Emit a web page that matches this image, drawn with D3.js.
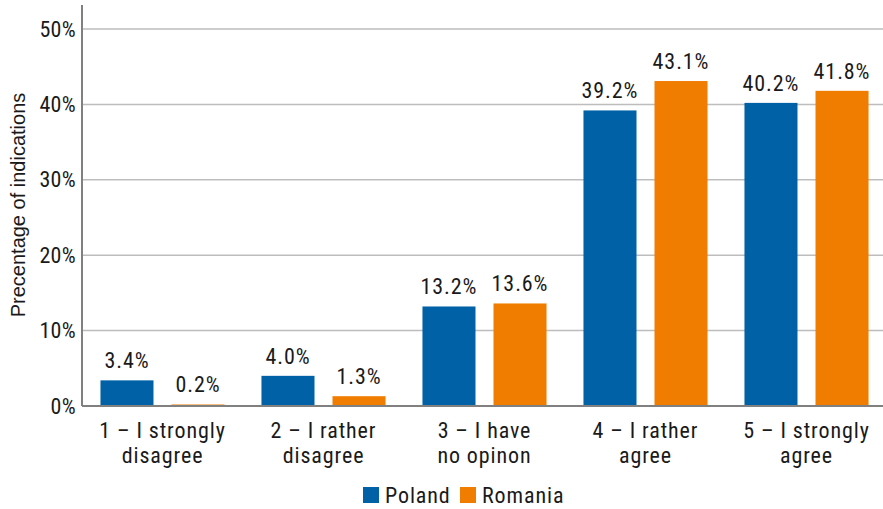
<!DOCTYPE html>
<html>
<head>
<meta charset="utf-8">
<script src="https://cdn.jsdelivr.net/npm/d3@7"></script>
<style>
  body { margin: 0; background: #fff; overflow: hidden; }
  svg text { font-family: "Roboto Condensed", Roboto, sans-serif; font-stretch: condensed; fill: #1a1a1a; letter-spacing: 0.9px; }
  svg text.ytitle { font-family: "Liberation Sans", Arial, sans-serif; font-stretch: normal; letter-spacing: 0; }
</style>
</head>
<body>
<svg id="chart"></svg>
<script>
// categories and series
const categories = ["1 – I strongly|disagree", "2 – I rather|disagree", "3 – I have|no opinon", "4 – I rather|agree", "5 – I strongly|agree"];
const seriesNames = ["Poland", "Romania"];
const poland = [3.4, 4.0, 13.2, 39.2, 40.2];
const romania = [0.2, 1.3, 13.6, 43.1, 41.8];
const yTicks = [0, 10, 20, 30, 40, 50];
const colors = ["#0061a6", "#f07d00"];

const W = 883, H = 509;
const margin = { top: 29, left: 82, bottom: 103 };
const width = 805,
      height = H - margin.top - margin.bottom;
const fs = 22;

const svg = d3.select("#chart").attr("width", W).attr("height", H);
const g = svg.append("g").attr("transform", `translate(${margin.left},${margin.top})`);

const x0 = d3.scaleBand().domain(categories).range([0, width]);
const x1 = d3.scaleBand().domain(seriesNames).range([0, x0.bandwidth()]).paddingInner(0.2535).paddingOuter(0.26);
const y = d3.scaleLinear().domain([0, 50]).range([height, 0]);

// gridlines
g.append("g").selectAll("line").data(yTicks.filter(d => d > 0)).join("line")
  .attr("x1", 0).attr("x2", width)
  .attr("y1", d => y(d)).attr("y2", d => y(d))
  .attr("stroke", "#bdbdbd").attr("stroke-width", 1.5);

// y axis
const yAxis = g.append("g").call(d3.axisLeft(y).tickValues(yTicks).tickFormat(d => d + "%").tickSize(0).tickPadding(6));
yAxis.select(".domain").remove();
yAxis.selectAll("text").attr("font-size", fs).style("font-family", null).style("letter-spacing", "0.3px");
g.append("line").attr("x1", 0).attr("x2", 0).attr("y1", -24).attr("y2", height)
  .attr("stroke", "#808080").attr("stroke-width", 2);

// bars
const data = categories.map((c, i) => ({ cat: c, vals: [poland[i], romania[i]] }));
const groups = g.append("g").selectAll("g").data(data).join("g")
  .attr("transform", d => `translate(${x0(d.cat)},0)`);

groups.selectAll("rect").data(d => d.vals.map((v, j) => ({ key: seriesNames[j], v, j }))).join("rect")
  .attr("x", d => x1(d.key)).attr("width", x1.bandwidth())
  .attr("y", d => y(d.v)).attr("height", d => height - y(d.v))
  .attr("fill", d => colors[d.j]);

groups.selectAll("text.val").data(d => d.vals.map((v, j) => ({ key: seriesNames[j], v, j }))).join("text")
  .attr("class", "val")
  .attr("x", d => x1(d.key) + x1.bandwidth() / 2)
  .attr("y", d => y(d.v) - 12)
  .attr("text-anchor", "middle").attr("font-size", fs)
  .text(d => d.v.toFixed(1) + "%");

// x axis baseline
g.append("line").attr("x1", 0).attr("x2", width).attr("y1", height).attr("y2", height)
  .attr("stroke", "#808080").attr("stroke-width", 2);

// category labels
const xl = g.append("g").selectAll("text").data(categories).join("text")
  .attr("x", d => x0(d) + x0.bandwidth() / 2)
  .attr("y", height + 32)
  .attr("text-anchor", "middle").attr("font-size", fs);
xl.selectAll("tspan").data(d => d.split("|")).join("tspan")
  .attr("x", function () { return d3.select(this.parentNode).attr("x"); })
  .attr("dy", (d, i) => i === 0 ? 0 : 25)
  .text(d => d);

// y title
svg.append("text").attr("class", "ytitle")
  .attr("transform", "translate(25,205) rotate(-90)")
  .attr("text-anchor", "middle").attr("font-size", 20)
  .text("Precentage of indications");

// legend
const legend = svg.append("g").attr("transform", "translate(363,487)");
const items = [{ name: seriesNames[0], x: 0 }, { name: seriesNames[1], x: 97 }];
items.forEach((it, i) => {
  legend.append("rect").attr("x", it.x).attr("y", 0).attr("width", 16).attr("height", 16).attr("fill", colors[i]);
  legend.append("text").attr("x", it.x + 22).attr("y", 16).attr("font-size", fs).text(it.name);
});
</script>
</body>
</html>
